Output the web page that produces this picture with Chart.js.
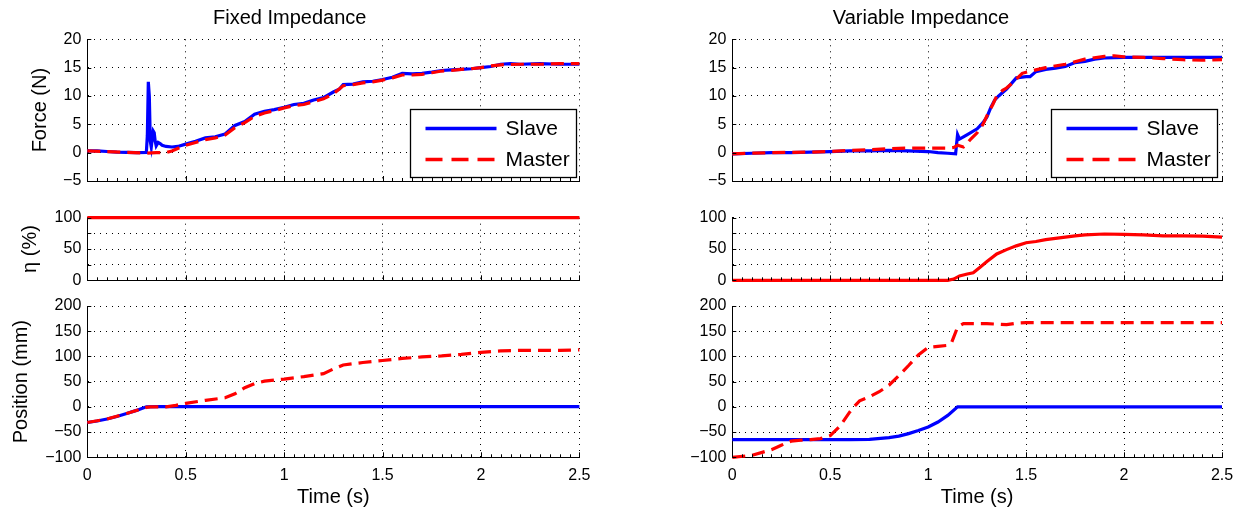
<!DOCTYPE html>
<html><head><meta charset="utf-8">
<script src="https://cdn.jsdelivr.net/npm/chart.js@4.4.0/dist/chart.umd.min.js"></script>
<style>
html,body{margin:0;padding:0;background:#fff;}
body{width:1243px;height:512px;position:relative;overflow:hidden;}
.box{position:absolute;}
</style></head><body>
<div class="box" style="left:0;top:0;width:600px;height:200px"><canvas id="c1"></canvas></div>
<div class="box" style="left:620px;top:0;width:623px;height:200px"><canvas id="c2"></canvas></div>
<div class="box" style="left:0;top:200px;width:600px;height:90px"><canvas id="c3"></canvas></div>
<div class="box" style="left:620px;top:200px;width:623px;height:90px"><canvas id="c4"></canvas></div>
<div class="box" style="left:0;top:290px;width:600px;height:222px"><canvas id="c5"></canvas></div>
<div class="box" style="left:620px;top:290px;width:623px;height:222px"><canvas id="c6"></canvas></div>
<script>
// ---------- tick values ----------
const timeTicks = [0, 0.5, 1, 1.5, 2, 2.5];
const minorStep = 0.05;
const forceTicks = [-5, 0, 5, 10, 15, 20];
const etaTicks = [0, 25, 50, 75, 100];
const etaLabels = [0, 50, 100];
const posTicks = [-100, -50, 0, 50, 100, 150, 200];

// ---------- Fixed Impedance ----------
const fixedForceSlaveT = [0,0.05,0.1,0.15,0.2,0.25,0.3,0.305,0.31,0.315,0.32,0.325,0.33,0.335,0.34,0.345,0.35,0.36,0.37,0.38,0.4,0.43,0.46,0.5,0.55,0.6,0.65,0.7,0.75,0.8,0.85,0.9,0.95,1.0,1.05,1.1,1.15,1.2,1.25,1.28,1.3,1.35,1.4,1.45,1.5,1.55,1.6,1.65,1.7,1.75,1.8,1.85,1.9,1.95,2.0,2.05,2.1,2.15,2.2,2.3,2.4,2.5];
const fixedForceSlave  = [0.3,0.3,0.2,0.1,0.05,0.0,0.05,3,12.5,10,2,1.0,2.5,3.8,3.5,2.0,1.2,1.8,1.6,1.3,1.1,1.0,1.1,1.5,2.0,2.6,2.8,3.3,4.8,5.5,6.8,7.3,7.6,8.0,8.5,8.7,9.3,9.7,10.7,11.2,12.0,12.1,12.5,12.6,12.9,13.3,14.0,13.9,14.0,14.2,14.5,14.6,14.7,14.8,15.0,15.2,15.6,15.7,15.6,15.7,15.6,15.6];
const fixedForceMasterT = [0,0.1,0.2,0.3,0.35,0.4,0.43,0.47,0.5,0.55,0.6,0.65,0.7,0.75,0.8,0.85,0.9,0.95,1.0,1.05,1.1,1.15,1.2,1.25,1.3,1.35,1.4,1.45,1.5,1.55,1.6,1.65,1.7,1.75,1.8,1.85,1.9,1.95,2.0,2.05,2.1,2.2,2.3,2.4,2.5];
const fixedForceMaster  = [0.3,0.2,0.05,-0.1,0.0,0.0,0.3,0.9,1.3,1.8,2.3,2.6,3.1,4.4,5.3,6.4,7.0,7.4,7.9,8.3,8.5,9.0,9.5,10.4,11.8,12.0,12.3,12.5,12.8,13.2,13.7,13.7,13.8,14.1,14.4,14.5,14.7,14.8,15.0,15.3,15.5,15.6,15.6,15.7,15.7];
const fixedEtaT = [0, 2.5];
const fixedEta  = [100, 100];
const fixedPosSlaveT = [0,0.05,0.1,0.15,0.2,0.25,0.3,0.35,1.0,1.5,2.0,2.5];
const fixedPosSlave  = [-31,-28,-24,-19,-13,-7,0,0.5,0.5,0.5,0.5,0.5];
const fixedPosMasterT = [0,0.1,0.2,0.3,0.32,0.4,0.45,0.5,0.6,0.7,0.75,0.8,0.85,0.9,1.0,1.1,1.2,1.25,1.3,1.4,1.5,1.6,1.7,1.8,1.9,2.0,2.1,2.2,2.3,2.4,2.5];
const fixedPosMaster  = [-31,-24,-13,-1,0,0,3,7,13,18,26,38,46,51,55,60,66,75,83,88,92,96,99,101,104,108,111,112,112,112,113];

// ---------- Variable Impedance ----------
const varForceSlaveT = [0,0.1,0.2,0.3,0.4,0.5,0.6,0.7,0.8,0.9,1.0,1.05,1.1,1.14,1.145,1.15,1.16,1.18,1.2,1.25,1.28,1.3,1.32,1.34,1.36,1.38,1.4,1.42,1.45,1.5,1.52,1.55,1.6,1.65,1.7,1.75,1.8,1.85,1.9,2.0,2.1,2.2,2.3,2.4,2.5];
const varForceSlave  = [-0.2,-0.1,0.0,0.0,0.1,0.2,0.3,0.3,0.4,0.3,0.2,0.0,-0.1,-0.2,1.5,3.2,2.4,2.8,3.2,4.2,5.3,6.3,8,9.3,10,10.6,11.2,12,13.2,13.4,13.4,14.3,14.7,14.9,15.2,15.9,16.1,16.5,16.7,16.8,16.8,16.8,16.8,16.8,16.8];
const varForceMasterT = [0,0.2,0.4,0.5,0.6,0.7,0.8,0.9,1.0,1.1,1.13,1.15,1.18,1.2,1.22,1.25,1.28,1.3,1.33,1.35,1.38,1.4,1.43,1.45,1.48,1.5,1.55,1.6,1.7,1.8,1.9,1.95,2.0,2.1,2.2,2.3,2.4,2.5];
const varForceMaster  = [-0.2,0.0,0.1,0.2,0.4,0.5,0.7,0.8,0.8,0.8,0.9,1.3,1.0,1.7,2.5,3.5,5,6.5,8.5,10,11,11.4,12.3,13,14,14.2,14.6,15.0,15.6,16.5,17.0,17.1,16.9,16.8,16.6,16.4,16.3,16.4];
const varEtaT = [0,1.1,1.13,1.16,1.2,1.23,1.265,1.3,1.35,1.4,1.45,1.5,1.55,1.6,1.65,1.7,1.75,1.8,1.9,2.0,2.1,2.2,2.3,2.4,2.5];
const varEta  = [0,0,2,7,10,12,21,30,42,49,55,60,62,65,67,69,71,72.5,74,73.5,72.5,71,71,70.5,69];
const varPosSlaveT = [0,0.6,0.7,0.8,0.85,0.9,0.95,1.0,1.05,1.1,1.15,1.5,2.0,2.5];
const varPosSlave  = [-65,-65,-64.5,-61,-58,-53,-47,-40,-30,-17,0,0,0,0];
const varPosMasterT = [0,0.1,0.2,0.25,0.3,0.35,0.4,0.45,0.5,0.55,0.6,0.62,0.65,0.7,0.75,0.8,0.85,0.9,0.95,1.0,1.05,1.1,1.12,1.15,1.18,1.3,1.4,1.45,1.5,2.0,2.5];
const varPosMaster  = [-100,-96,-85,-76,-68,-66,-65,-63,-57,-38,-10,0,12,20,30,43,62,82,103,118,120,122,128,158,165,165,163,166,167,167,167];

// ---------- styling ----------
const FONT = "'Liberation Sans', Arial, sans-serif";
Chart.defaults.font.family = FONT;
Chart.defaults.color = '#000';
const BLUE = '#0000ff', RED = '#ff0000';
const DASH = [13, 7];

function pts(t, v) { return t.map((x, i) => ({ x: x, y: v[i] })); }
function fmt(v) { return String(v).replace('-', '\u2212'); }

const axisMarks = {
  id: 'axisMarks',
  afterDatasetsDraw(chart) {
    const { ctx, chartArea: a, scales } = chart;
    const x = scales.x, y = scales.y;
    ctx.save();
    ctx.strokeStyle = '#000';
    ctx.lineWidth = 1;
    const n = Math.round((x.max - x.min) / minorStep);
    for (let k = 0; k <= n; k++) {
      const v = x.min + k * minorStep;
      const px = Math.round(x.getPixelForValue(v)) + 0.5;
      const major = timeTicks.some(t => Math.abs(t - v) < 1e-6);
      ctx.beginPath(); ctx.moveTo(px, a.bottom); ctx.lineTo(px, a.bottom - (major ? 5 : 3)); ctx.stroke();
    }
    y.ticks.forEach(t => {
      const py = Math.round(y.getPixelForValue(t.value)) + 0.5;
      ctx.beginPath(); ctx.moveTo(a.left, py); ctx.lineTo(a.left + 4, py); ctx.stroke();
    });
    ctx.restore();
  }
};

const boxLegend = {
  id: 'boxLegend',
  afterDraw(chart, args, o) {
    if (!o.display) return;
    const { ctx, chartArea: a } = chart;
    const w = 166, h = 68;
    const bx = Math.round(a.right - o.right - w) + 0.5, by = Math.round(a.bottom - 4 - h) + 0.5;
    ctx.save();
    ctx.fillStyle = '#fff'; ctx.fillRect(bx, by, w, h);
    ctx.strokeStyle = '#000'; ctx.lineWidth = 1.3; ctx.strokeRect(bx, by, w, h);
    const order = [1, 0];
    order.forEach((idx, k) => {
      const ds = chart.data.datasets[idx];
      const ly = by + 19 + k * 31;
      ctx.beginPath();
      ctx.strokeStyle = ds.borderColor; ctx.lineWidth = 3.5;
      ctx.setLineDash(ds.dash ? [17, 9] : []);
      ctx.moveTo(bx + 15, ly); ctx.lineTo(bx + 86, ly); ctx.stroke();
      ctx.setLineDash([]);
      ctx.fillStyle = '#000';
      ctx.font = "21px " + FONT;
      ctx.textBaseline = 'middle'; ctx.textAlign = 'left';
      ctx.fillText(ds.label, bx + 95, ly + 1);
    });
    ctx.restore();
  }
};

function mk(id, o) {
  const datasets = o.series.map(s => ({
    label: s.label, data: pts(s.t, s.v), borderColor: s.color, backgroundColor: s.color,
    borderWidth: 3.2, borderDash: s.dash ? DASH : [], dash: !!s.dash, pointRadius: 0, tension: 0,
    clip: 4, order: s.order, fill: false, borderCapStyle: 'butt'
  }));
  return new Chart(document.getElementById(id), {
    type: 'line',
    data: { datasets: datasets },
    options: {
      responsive: true, maintainAspectRatio: false, animation: false,
      layout: { padding: o.pad },
      plugins: {
        legend: { display: false }, tooltip: { enabled: false },
        title: o.title ? { display: true, text: o.title, color: '#000', font: { size: 20, weight: 'normal' }, padding: { top: 6, bottom: 9 } } : { display: false },
        boxLegend: { display: !!o.legend, right: o.legendRight || 4 }
      },
      scales: {
        x: {
          type: 'linear', min: 0, max: 2.5,
          afterBuildTicks: s => { s.ticks = timeTicks.map(v => ({ value: v })); },
          afterFit: s => { s.height = o.xHeight; s.paddingLeft = 0; s.paddingRight = 0; },
          grid: { color: '#000', lineWidth: 1, drawTicks: false },
          border: { display: true, color: '#000', width: 1, dash: [1, 5] },
          ticks: { display: !!o.showX, padding: 9, font: { size: 16 }, maxRotation: 0, autoSkip: false, callback: v => fmt(v) },
          title: o.showX ? { display: true, text: 'Time (s)', font: { size: 20 }, padding: { top: 0, bottom: 3 } } : { display: false }
        },
        y: {
          type: 'linear', min: o.yTicks[0], max: o.yTicks[o.yTicks.length - 1],
          afterBuildTicks: s => { s.ticks = o.yTicks.map(v => ({ value: v })); },
          afterFit: s => { s.width = o.yWidth; s.paddingTop = 0; s.paddingBottom = 0; },
          grid: { color: '#000', lineWidth: 1, drawTicks: false },
          border: { display: true, color: '#000', width: 1, dash: [1, 5] },
          ticks: { padding: 6, font: { size: 16 }, autoSkip: false,
                   callback: v => (o.yLabels && !o.yLabels.includes(v)) ? '' : fmt(v) },
          title: o.yTitle ? { display: true, text: o.yTitle, font: { size: 20 }, padding: { top: o.yTitlePad, bottom: 0 } } : { display: false }
        }
      }
    },
    plugins: [axisMarks, boxLegend]
  });
}

const LW = 87.3, RW = 112.3;
// Fixed Impedance
mk('c1', { title: 'Fixed Impedance', yTitle: 'Force (N)', yTitlePad: 28, yTicks: forceTicks, yWidth: LW, xHeight: 0,
  pad: { left: 0, right: 20.6, top: 0.3, bottom: 19 }, legend: true, legendRight: 3.4,
  series: [
    { label: 'Master', t: fixedForceMasterT, v: fixedForceMaster, color: RED, dash: true, order: 0 },
    { label: 'Slave', t: fixedForceSlaveT, v: fixedForceSlave, color: BLUE, order: 1 }
  ] });
mk('c3', { yTitle: '\u03B7 (%)', yTitlePad: 18, yTicks: etaTicks, yLabels: etaLabels, yWidth: LW, xHeight: 0,
  pad: { left: 0, right: 20.6, top: 17.7, bottom: 9.7 },
  series: [ { label: '\u03B7', t: fixedEtaT, v: fixedEta, color: RED, order: 0 } ] });
mk('c5', { yTitle: 'Position (mm)', yTitlePad: 9, yTicks: posTicks, yWidth: LW, xHeight: 54.7, showX: true,
  pad: { left: 0, right: 20.6, top: 16, bottom: 0 },
  series: [
    { label: 'Master', t: fixedPosMasterT, v: fixedPosMaster, color: RED, dash: true, order: 0 },
    { label: 'Slave', t: fixedPosSlaveT, v: fixedPosSlave, color: BLUE, order: 1 }
  ] });
// Variable Impedance
mk('c2', { title: 'Variable Impedance', yTicks: forceTicks, yWidth: RW, xHeight: 0,
  pad: { left: 0, right: 21, top: 0.3, bottom: 19 }, legend: true, legendRight: 5,
  series: [
    { label: 'Master', t: varForceMasterT, v: varForceMaster, color: RED, dash: true, order: 0 },
    { label: 'Slave', t: varForceSlaveT, v: varForceSlave, color: BLUE, order: 1 }
  ] });
mk('c4', { yTicks: etaTicks, yLabels: etaLabels, yWidth: RW, xHeight: 0,
  pad: { left: 0, right: 21, top: 17.7, bottom: 9.7 },
  series: [ { label: '\u03B7', t: varEtaT, v: varEta, color: RED, order: 0 } ] });
mk('c6', { yTicks: posTicks, yWidth: RW, xHeight: 54.7, showX: true,
  pad: { left: 0, right: 21, top: 16, bottom: 0 },
  series: [
    { label: 'Master', t: varPosMasterT, v: varPosMaster, color: RED, dash: true, order: 0 },
    { label: 'Slave', t: varPosSlaveT, v: varPosSlave, color: BLUE, order: 1 }
  ] });
</script>
</body></html>
